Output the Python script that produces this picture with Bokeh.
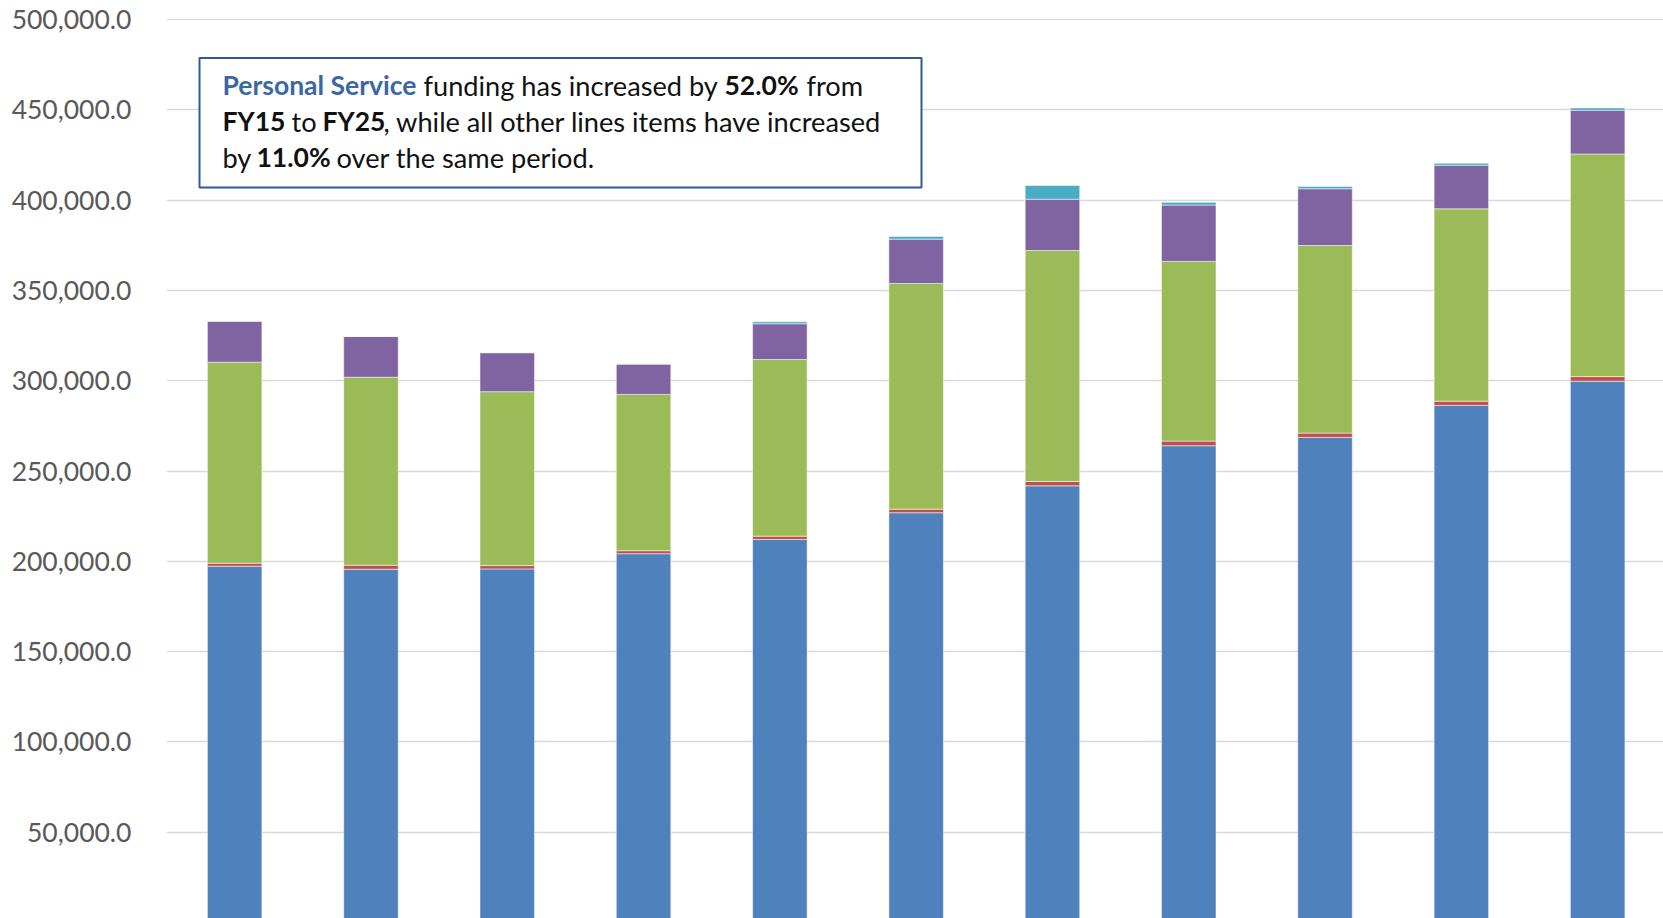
from bokeh.plotting import figure
from bokeh.models import ColumnDataSource, FixedTicker, NumeralTickFormatter, Range1d, BoxAnnotation, Label
from bokeh.embed import file_html
from bokeh.resources import INLINE

# ---- data ----
years = ["FY15", "FY16", "FY17", "FY18", "FY19", "FY20", "FY21", "FY22", "FY23", "FY24", "FY25"]
personal_service = [197300, 195600, 195800, 204200, 212100, 226900, 241800, 264000, 268600, 286300, 299700]
line_red = [1660, 2220, 1830, 1660, 1830, 1990, 2380, 2550, 2380, 2380, 2600]
line_green = [111300, 104100, 96300, 86550, 97800, 124950, 127900, 99500, 103900, 106500, 123250]
line_purple = [22700, 22550, 21600, 16800, 19800, 24550, 28400, 31200, 31400, 24150, 24200]
line_cyan = [0, 0, 0, 0, 1100, 1500, 7600, 1500, 1300, 1100, 1300]
y_ticks = [0, 50000, 100000, 150000, 200000, 250000, 300000, 350000, 400000, 450000, 500000]

series = ["personal", "red", "green", "purple", "cyan"]
colors = ["#4F81BD", "#C0504D", "#9BBB59", "#8064A2", "#4BACC6"]

src = ColumnDataSource(dict(
    x=list(range(len(years))),
    personal=personal_service, red=line_red, green=line_green,
    purple=line_purple, cyan=line_cyan,
))

# ---- geometry ----
W, H = 1663, 918
BL = 166                 # left border -> frame starts at page x 166
PPX = 136.3              # pixels per category
UPP = 553.7              # value units per pixel
FRAME_LEFT_PAGE = BL
FRAME_TOP_PAGE = 0
x_start = -0.5
x_end = x_start + (W - BL) / PPX
y_end = 500000 + (19 - FRAME_TOP_PAGE) * UPP
y_start = y_end - H * UPP

def dx(px):
    return x_start + (px - FRAME_LEFT_PAGE) / PPX

def dy(py):
    return y_end - (py - FRAME_TOP_PAGE) * UPP

p = figure(width=W, height=H, output_backend="svg", toolbar_location=None,
           x_range=Range1d(x_start, x_end), y_range=Range1d(y_start, y_end),
           min_border_left=BL, min_border_right=0, min_border_top=0, min_border_bottom=0)
p.outline_line_color = None
p.background_fill_color = "white"
p.border_fill_color = "white"

p.vbar_stack(series, x="x", width=0.40, source=src, color=colors,
             line_color="white", line_alpha=0.5, line_width=1)

p.xaxis.visible = False
p.xgrid.visible = False
p.ygrid.grid_line_color = "#D9D9D9"
p.ygrid.grid_line_width = 1.6
p.yaxis.ticker = FixedTicker(ticks=y_ticks)
p.yaxis.formatter = NumeralTickFormatter(format="0,0.0")
p.yaxis.axis_line_color = None
p.yaxis.major_tick_line_color = None
p.yaxis.minor_tick_line_color = None
p.yaxis.major_label_text_font = "Lato"
p.yaxis.major_label_text_font_size = "26.5px"
p.yaxis.major_label_text_color = "#595959"
p.yaxis.major_label_standoff = 29

# ---- annotation box ----
box = BoxAnnotation(left=dx(199), right=dx(921), top=dy(57.5), bottom=dy(187),
                    fill_color="white", fill_alpha=1.0,
                    line_color="#2F5A93", line_width=2, line_alpha=1.0)
p.add_layout(box)

FS_REG = "27.2px"
FS_BOLD = "26.5px"
L1, L2, L3 = 84.5, 120.5, 156.5
runs = [
    # (text, page_x, page_baseline_y, bold, color)
    ("Personal Service", 222, L1, True, "#3B67A3"),
    ("funding has increased by", 423, L1, False, "#111111"),
    ("52.0%", 724, L1, True, "#111111"),
    ("from", 806, L1, False, "#111111"),
    ("FY15", 222, L2, True, "#111111"),
    ("to", 291, L2, False, "#111111"),
    ("FY25", 322, L2, True, "#111111"),
    (", while all other lines items have increased", 383, L2, False, "#111111"),
    ("by", 222, L3, False, "#111111"),
    ("11.0%", 256, L3, True, "#111111"),
    ("over the same period.", 336, L3, False, "#111111"),
]
for t, px, py, bold, col in runs:
    p.add_layout(Label(x=dx(px), y=dy(py), text=t, text_font="Lato",
                       text_font_size=FS_BOLD if bold else FS_REG,
                       text_font_style="bold" if bold else "normal",
                       text_color=col, text_align="left", text_baseline="alphabetic"))

open("out.html", "w").write(file_html(p, INLINE))
